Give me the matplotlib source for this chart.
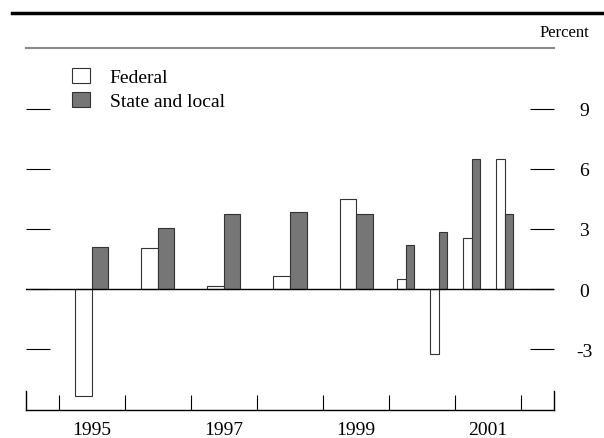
import matplotlib
matplotlib.use("Agg")
import matplotlib.pyplot as plt
from matplotlib.lines import Line2D
import numpy as np

plt.rcParams['font.family'] = ['Liberation Serif', 'DejaVu Serif']

# Period midpoints (annual through 1999, half-yearly 2000-2001)
periods = [1995.5, 1996.5, 1997.5, 1998.5, 1999.5, 2000.25, 2000.75, 2001.25, 2001.75]
period_widths = [1, 1, 1, 1, 1, 0.5, 0.5, 0.5, 0.5]
federal = [-5.33, 2.03, 0.15, 0.63, 4.5, 0.5, -3.25, 2.55, 6.5]
state_local = [2.08, 3.03, 3.77, 3.87, 3.73, 2.2, 2.85, 6.5, 3.75]
year_labels = ["1995", "1997", "1999", "2001"]
label_pos = [1995.5, 1997.5, 1999.5, 2001.5]
yticks = [-3, 0, 3, 6, 9]

W, H, DPI = 604, 439, 100
fig = plt.figure(figsize=(W / DPI, H / DPI), dpi=DPI)
ax_top, ax_bot = 49.3, 410.7
ax = fig.add_axes([25.7 / W, 1 - ax_bot / H, (554.3 - 25.7) / W, (ax_bot - ax_top) / H])

xmin, xmax = 1994.5, 2002.5
ymin, ymax = -6.03, 12.03
ax.set_xlim(xmin, xmax)
ax.set_ylim(ymin, ymax)

p = np.array(periods)
w = np.array(period_widths) * 0.25
ax.bar(p - w / 2, federal, width=w, color='white', edgecolor='#333333', linewidth=0.8, label='Federal', zorder=3)
ax.bar(p + w / 2, state_local, width=w, color='#767676', edgecolor='#333333', linewidth=0.8, label='State and local', zorder=3)

ax.axhline(0, color='black', linewidth=1.0, zorder=4)

# spines
for s in ['left', 'right']:
    ax.spines[s].set_visible(True)
    ax.spines[s].set_color('black')
    ax.spines[s].set_linewidth(1.0)
    ax.spines[s].set_bounds(ymin, ymin + 0.95)
ax.spines['top'].set_color('#888888')
ax.spines['top'].set_linewidth(1.5)
ax.spines['bottom'].set_color('black')
ax.spines['bottom'].set_linewidth(1.0)

# y ticks: both sides inward, labels on right
ax.set_yticks(yticks)
ax.set_yticklabels([str(v) for v in yticks])
ax.tick_params(axis='y', which='major', direction='in', length=17.3, width=0.8,
               left=True, right=True, labelleft=False, labelright=True,
               pad=21.6, labelsize=14, color='black')
for lbl in ax.get_yticklabels():
    lbl.set_horizontalalignment('center')

# x ticks: year boundaries (minor, inward) and labels at year centres
ax.set_xticks(label_pos)
ax.set_xticklabels(year_labels)
ax.set_xticks(np.arange(1995, 2003), minor=True)
ax.tick_params(axis='x', which='major', length=0, pad=8, labelsize=14)
ax.tick_params(axis='x', which='minor', direction='in', length=10.8, width=0.8, color='black')

ax.legend(loc='upper left', bbox_to_anchor=(72.3 / W, 1 - 69 / H), bbox_transform=fig.transFigure,
          frameon=False, fontsize=14, handlelength=0.93, handleheight=0.82,
          handletextpad=1.0, labelspacing=0.3, borderpad=0, borderaxespad=0)

# top rule and unit label
fig.add_artist(Line2D([12 / W, 1], [1 - 14 / H, 1 - 14 / H], color='black', linewidth=2.5,
                      transform=fig.transFigure))
fig.text(589 / W, 1 - 33 / H, "Percent", ha='right', va='center', fontsize=12)

fig.savefig("out.png", dpi=DPI)
